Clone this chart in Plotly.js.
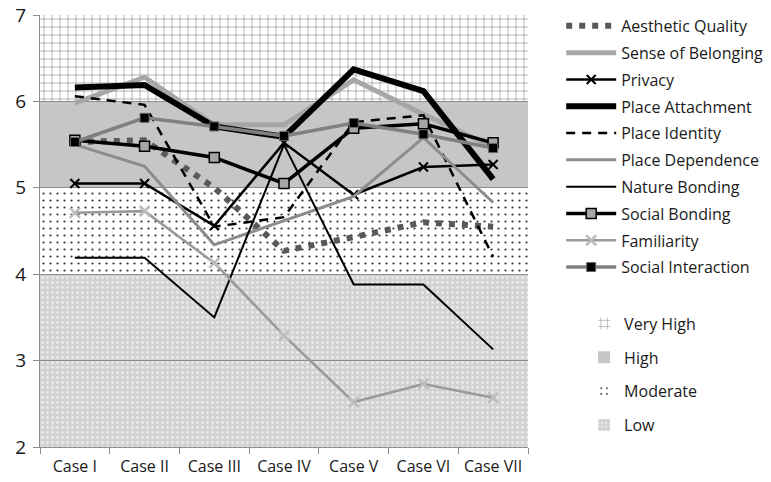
<!DOCTYPE html>
<html>
<head>
<meta charset="utf-8">
<script src="https://cdn.plot.ly/plotly-3.0.1.min.js"></script>
<style>html,body{margin:0;padding:0;background:#fff;}#chart{width:771px;height:482px;}</style>
</head>
<body>
<div id="chart"></div>
<script>
// ---- data ----
const cases = ['Case I','Case II','Case III','Case IV','Case V','Case VI','Case VII'];
const aesthetic         = [5.53, 5.55, 5.00, 4.27, 4.43, 4.60, 4.55];
const belonging         = [5.98, 6.28, 5.73, 5.73, 6.25, 5.85, 5.47];
const privacy           = [5.05, 5.05, 4.56, 5.52, 4.92, 5.24, 5.27];
const attachment        = [6.16, 6.19, 5.71, 5.59, 6.37, 6.12, 5.10];
const identity          = [6.06, 5.96, 4.55, 4.66, 5.76, 5.84, 4.20];
const dependence        = [5.50, 5.25, 4.34, 4.62, 4.90, 5.58, 4.83];
const nature            = [4.19, 4.19, 3.50, 5.50, 3.88, 3.88, 3.13];
const socialBonding     = [5.55, 5.48, 5.35, 5.05, 5.69, 5.74, 5.52];
const familiarity       = [4.71, 4.73, 4.13, 3.29, 2.52, 2.73, 2.57];
const socialInteraction = [5.53, 5.81, 5.71, 5.60, 5.75, 5.62, 5.46];

const bandNames = ['Very High', 'High', 'Moderate', 'Low'];
const bandLow   = [6, 5, 4, 2];
const bandHigh  = [7, 6, 5, 4];
const yTicks    = [2, 3, 4, 5, 6, 7];

// ---- styles ----
const FONT = '"Open Sans", "Noto Sans", sans-serif';
const TXT = '#1a1a1a';
const bandStyles = [
  {color:'#ffffff', pattern:{shape:'+', fgcolor:'#6a6a6a', bgcolor:'#ffffff', size:8, solidity:0.12, fillmode:'replace'}},
  {color:'#c6c6c6', pattern:{shape:''}},
  {color:'#ffffff', pattern:{shape:'.', fgcolor:'#333333', bgcolor:'#ffffff', size:7, solidity:0.08, fillmode:'replace'}},
  {color:'#d2d2d2', pattern:{shape:'.', fgcolor:'#ececec', bgcolor:'#d2d2d2', size:5, solidity:0.25, fillmode:'replace'}}
];

const lineSpecs = [
  {name:'Aesthetic Quality', y:aesthetic, line:{color:'#595959', width:6, dash:'6px,7px'}, mode:'lines'},
  {name:'Sense of Belonging', y:belonging, line:{color:'#a6a6a6', width:5}, mode:'lines'},
  {name:'Privacy', y:privacy, line:{color:'#000000', width:2.5}, mode:'lines+markers',
    marker:{symbol:'x-thin-open', size:9, color:'#000000', line:{width:2, color:'#000000'}}},
  {name:'Place Attachment', y:attachment, line:{color:'#000000', width:6}, mode:'lines'},
  {name:'Place Identity', y:identity, line:{color:'#000000', width:2.5, dash:'9px,7px'}, mode:'lines'},
  {name:'Place Dependence', y:dependence, line:{color:'#8c8c8c', width:3}, mode:'lines'},
  {name:'Nature Bonding', y:nature, line:{color:'#000000', width:2}, mode:'lines'},
  {name:'Social Bonding', y:socialBonding, line:{color:'#000000', width:3.5}, mode:'lines+markers',
    marker:{symbol:'square', size:10, color:'#a6a6a6', line:{width:1.5, color:'#000000'}}},
  {name:'Familiarity', y:familiarity, line:{color:'#9a9a9a', width:2.5}, mode:'lines+markers',
    marker:{symbol:'x-thin-open', size:10, color:'#bdbdbd', line:{width:2.5, color:'#bdbdbd'}}},
  {name:'Social Interaction', y:socialInteraction, line:{color:'#808080', width:3.5}, mode:'lines+markers',
    marker:{symbol:'square', size:9, color:'#000000', line:{width:1, color:'#666666'}}}
];

const data = [];
// band traces (background subplot xy)
bandNames.forEach((nm, i) => {
  data.push({
    type:'bar', name:nm, x:[0], y:[bandHigh[i]-bandLow[i]], base:[bandLow[i]], width:[1],
    xaxis:'x', yaxis:'y', legend:'legend2', legendgroup:'b'+i,
    marker:{color:bandStyles[i].color, pattern:bandStyles[i].pattern, line:{width:0}},
    hoverinfo:'skip'
  });
});
// line traces (foreground subplot x2y2)
lineSpecs.forEach((s, i) => {
  const t = {type:'scatter', name:s.name, x:cases, y:s.y, mode:s.mode, line:s.line,
    xaxis:'x2', yaxis:'y2', legend:'legend', legendgroup:'l'+i};
  if (s.marker) t.marker = s.marker;
  data.push(t);
});

const layout = {
  width:771, height:482,
  margin:{l:40, r:243, t:15, b:35, autoexpand:false},
  paper_bgcolor:'#ffffff', plot_bgcolor:'rgba(0,0,0,0)',
  font:{family:FONT, size:15, color:TXT},
  barmode:'overlay', showlegend:true,
  xaxis:{domain:[0,1], range:[-0.5,0.5], visible:false, fixedrange:true, automargin:false},
  yaxis:{domain:[0,1], range:[2,7], visible:false, fixedrange:true, automargin:false},
  xaxis2:{domain:[0,1], anchor:'y2', type:'category', range:[-0.5,6.5], automargin:false,
    showgrid:false, showline:true, linecolor:'#8c8c8c', linewidth:1, tickangle:0,
    ticks:'outside', tickson:'boundaries', ticklen:6, tickcolor:'#8c8c8c', ticklabelstandoff:5,
    tickfont:{family:FONT, size:16, color:TXT}, zeroline:false},
  yaxis2:{domain:[0,1], anchor:'x2', range:[2,7], tickvals:yTicks, automargin:false,
    showgrid:true, gridcolor:'#8c8c8c', gridwidth:1,
    showline:true, linecolor:'#8c8c8c', linewidth:1,
    ticks:'outside', ticklen:6, tickcolor:'#8c8c8c', ticklabelstandoff:3,
    tickfont:{family:FONT, size:19, color:TXT}, zeroline:false},
  legend:{x:1.068, xanchor:'left', y:1.014, yanchor:'top', itemwidth:50, maxheight:1,
    tracegroupgap:3, font:{family:FONT, size:16, color:TXT}, bgcolor:'rgba(0,0,0,0)'},
  legend2:{x:1.115, xanchor:'left', y:0.325, yanchor:'top', itemwidth:30, maxheight:1,
    tracegroupgap:10, font:{family:FONT, size:16, color:TXT}, bgcolor:'rgba(0,0,0,0)'}
};

Plotly.newPlot('chart', data, layout, {displayModeBar:false, staticPlot:true});
</script>
</body>
</html>
